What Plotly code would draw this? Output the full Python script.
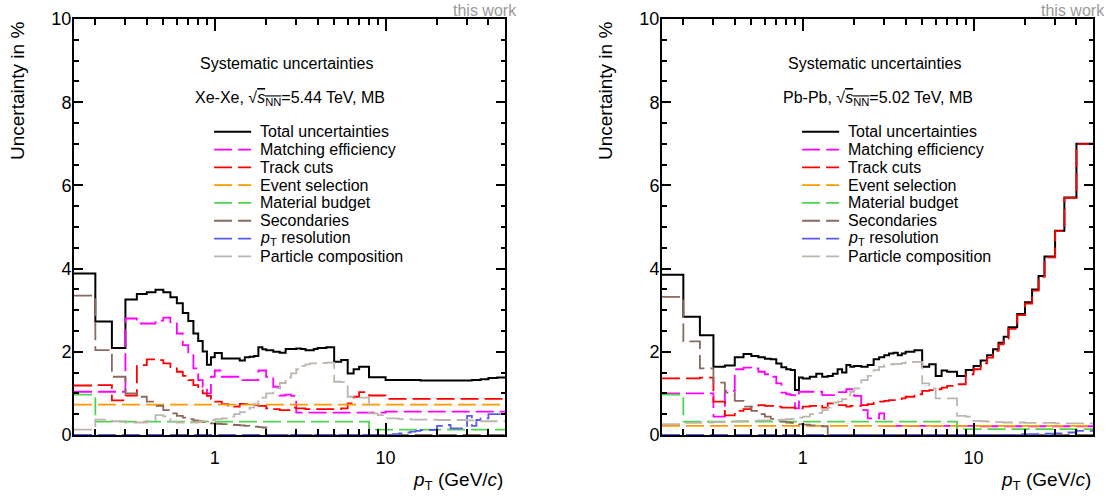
import math
import plotly.graph_objects as go

# ---------------------------------------------------------------------------
# pT binning (GeV/c)
# ---------------------------------------------------------------------------
edges_common = [0.15, 0.2, 0.25, 0.3, 0.35, 0.4, 0.45, 0.5, 0.55, 0.6, 0.65, 0.7,
                0.75, 0.8, 0.85, 0.9, 0.95, 1.0, 1.1, 1.2, 1.3, 1.4, 1.5, 1.6,
                1.7, 1.8, 1.9, 2.0, 2.2, 2.4, 2.6, 2.8, 3.0, 3.2, 3.4, 3.6, 3.8,
                4.0, 4.5, 5.0, 5.5, 6.0, 6.5, 7.0, 8.0, 9.0, 10.0, 11.0, 12.0,
                13.0, 14.0, 15.0, 16.0, 18.0, 20.0, 22.0, 24.0, 26.0]
edges_xexe = edges_common + [28.0, 30.0, 32.0, 34.0, 36.0, 40.0, 45.0, 50.0]
edges_pbpb = edges_common + [30.0, 34.0, 40.0, 50.0]

# ---------------------------------------------------------------------------
# Xe-Xe, sqrt(sNN) = 5.44 TeV : relative systematic uncertainties in %
# ---------------------------------------------------------------------------
xexe_total = [3.88, 2.73, 2.09, 3.26, 3.39, 3.43, 3.49, 3.43, 3.31, 3.17, 2.93, 2.74,
              2.44, 2.26, 2.01, 1.69, 1.87,
              1.97, 1.84, 1.84, 1.84, 1.79, 1.87, 1.88, 1.90, 2.11, 2.06,
              2.04, 2.00, 1.98, 2.07, 2.07, 2.08, 2.07, 2.04, 2.04, 2.07,
              2.09, 2.11, 1.76, 1.80, 1.48, 1.58, 1.64, 1.39, 1.39,
              1.32, 1.32, 1.32, 1.32, 1.32, 1.32, 1.31, 1.31, 1.31, 1.31, 1.31,
              1.31, 1.31, 1.31, 1.32, 1.32, 1.34, 1.37, 1.38]
xexe_matching = [1.04, 1.04, 1.04, 2.80, 2.68, 2.68, 2.75, 2.82, 2.68, 2.44, 2.16, 1.96,
                 1.60, 1.32, 1.16, 1.00, 1.40,
                 1.55, 1.40, 1.40, 1.40, 1.32, 1.32, 1.32, 1.32, 1.55, 1.55,
                 1.40, 1.16, 0.95, 0.97, 0.94, 0.54, 0.54, 0.54, 0.54, 0.54,
                 0.54, 0.54, 0.54, 0.54, 0.54, 0.54, 0.54, 0.54, 0.54,
                 0.56, 0.56, 0.56, 0.56, 0.56, 0.56, 0.56, 0.56, 0.56, 0.56, 0.56,
                 0.56, 0.56, 0.56, 0.56, 0.56, 0.56, 0.56, 0.56]
xexe_trackcuts = [1.19, 1.20, 0.83, 0.95, 1.68, 1.82, 1.80, 1.72, 1.63, 1.52, 1.42, 1.32,
                  1.20, 1.12, 1.00, 0.94, 0.87,
                  0.80, 0.74, 0.70, 0.68, 0.75, 0.74, 0.72, 0.72, 0.70, 0.70,
                  0.64, 0.62, 0.60, 0.60, 0.66, 0.64, 0.64, 0.62, 0.62, 0.62,
                  0.62, 0.62, 0.62, 0.64, 0.76, 0.92, 1.03, 0.95, 0.95,
                  0.87, 0.87, 0.87, 0.87, 0.87, 0.87, 0.87, 0.87, 0.87, 0.87, 0.87,
                  0.87, 0.87, 0.87, 0.87, 0.87, 0.87, 0.87, 0.87]
xexe_event = [0.73] * 65
xexe_material = [0.97] + [0.32] * 43 + [0.13] * 21
xexe_secondaries = [3.35, 2.04, 1.40, 1.00, 0.92, 0.80, 0.70, 0.60, 0.52, 0.46, 0.42, 0.38,
                    0.35, 0.33, 0.31, 0.29, 0.28,
                    0.27, 0.26, 0.25, 0.24, 0.23, 0.22, 0.21, 0.20, 0.19, 0.18] + [0.0] * 38
xexe_ptres = [0.0] * 47 + [0.02, 0.04, 0.06, 0.08, 0.10, 0.12, 0.12, 0.22, 0.24, 0.16,
                           0.16, 0.16, 0.46, 0.22, 0.36, 0.40, 0.50, 0.50]
xexe_partcomp = [0.13, 0.37, 0.33, 0.30, 0.30, 0.33, 0.48, 0.45, 0.32, 0.30, 0.30, 0.30,
                 0.30, 0.32, 0.33, 0.34, 0.35,
                 0.38, 0.40, 0.44, 0.50, 0.55, 0.60, 0.66, 0.74, 0.82, 0.90,
                 1.00, 1.12, 1.25, 1.38, 1.48, 1.58, 1.66, 1.70, 1.72, 1.72,
                 1.73, 1.74, 1.28, 1.27, 0.92, 0.90, 0.90, 0.52, 0.48,
                 0.40, 0.40, 0.38, 0.38, 0.37, 0.37, 0.37, 0.37, 0.36, 0.36, 0.36,
                 0.36, 0.36, 0.35, 0.35, 0.34, 0.33, 0.33, 0.33]

# ---------------------------------------------------------------------------
# Pb-Pb, sqrt(sNN) = 5.02 TeV : relative systematic uncertainties in %
# ---------------------------------------------------------------------------
pbpb_total = [3.85, 2.84, 2.40, 1.64, 1.67, 1.87, 1.95, 1.90, 1.87, 1.83, 1.82, 1.72,
              1.63, 1.58, 1.56, 1.08, 1.38,
              1.36, 1.40, 1.47, 1.40, 1.42, 1.47, 1.58, 1.50, 1.68, 1.64,
              1.66, 1.64, 1.68, 1.82, 1.87, 1.92, 1.96, 1.98, 1.92, 1.96,
              2.00, 2.04, 1.64, 1.70, 1.42, 1.55, 1.52, 1.42, 1.56,
              1.66, 1.79, 1.92, 2.06, 2.22, 2.36, 2.59, 2.91, 3.19, 3.50, 3.82,
              4.29, 4.91, 5.71, 7.00]
pbpb_matching = [1.00, 1.00, 1.00, 0.44, 1.06, 1.58, 1.62, 1.60, 1.52, 1.46, 1.40, 1.24,
                 1.02, 0.98, 0.96, 0.64, 1.04,
                 1.04, 1.04, 1.04, 0.96, 0.96, 0.96, 1.03, 1.03, 1.10, 1.10,
                 0.94, 0.60, 0.40, 0.40, 0.52, 0.22, 0.22, 0.22, 0.22, 0.22,
                 0.22, 0.22, 0.22, 0.22, 0.22, 0.22, 0.22, 0.22, 0.22,
                 0.21, 0.21, 0.21, 0.21, 0.21, 0.21, 0.21, 0.21, 0.21, 0.21, 0.21,
                 0.21, 0.21, 0.21, 0.21]
pbpb_trackcuts = [1.36, 1.36, 1.38, 0.80, 0.47, 0.58, 0.62, 0.68, 0.72, 0.70, 0.70, 0.68,
                  0.66, 0.66, 0.66, 0.64, 0.64,
                  0.68, 0.70, 0.72, 0.66, 0.76, 0.72, 0.72, 0.72, 0.68, 0.70,
                  0.70, 0.72, 0.74, 0.78, 0.80, 0.82, 0.84, 0.84, 0.86, 0.88,
                  0.92, 0.98, 1.06, 1.08, 1.10, 1.14, 1.18, 1.22, 1.46,
                  1.58, 1.72, 1.86, 2.02, 2.18, 2.32, 2.55, 2.88, 3.16, 3.47, 3.80,
                  4.27, 4.90, 5.70, 6.99]
pbpb_event = [0.22] * 61
pbpb_material = [0.97] + [0.32] * 43 + [0.14] * 17
pbpb_secondaries = [3.32, 2.25, 1.60, 1.26, 1.02, 0.82, 0.68, 0.58, 0.50, 0.44, 0.39, 0.35,
                    0.32, 0.30, 0.29, 0.27, 0.26,
                    0.25, 0.23, 0.22, 0.21] + [0.0] * 40
pbpb_ptres = [0.0] * 53 + [0.02, 0.02, 0.02, 0.03, 0.03, 0.04, 0.06, 0.10]
pbpb_partcomp = [0.26, 0.29, 0.30, 0.31, 0.32, 0.33, 0.34, 0.34, 0.35, 0.35, 0.36, 0.36,
                 0.37, 0.38, 0.39, 0.40, 0.42,
                 0.44, 0.50, 0.53, 0.60, 0.66, 0.78, 0.80, 0.86, 0.96, 1.04,
                 1.12, 1.32, 1.42, 1.56, 1.64, 1.68, 1.70, 1.71, 1.71, 1.73,
                 1.75, 1.76, 1.24, 1.12, 0.88, 0.88, 0.88, 0.46, 0.44,
                 0.34, 0.33, 0.32, 0.31, 0.31, 0.30, 0.30, 0.30, 0.29, 0.29, 0.29,
                 0.29, 0.28, 0.28, 0.28]

# ---------------------------------------------------------------------------
# Legend entries and styles
# ---------------------------------------------------------------------------
source_names = ["Total uncertainties", "Matching efficiency", "Track cuts",
                "Event selection", "Material budget", "Secondaries",
                "<i>p</i><sub>T</sub> resolution", "Particle composition"]
source_colors = ["#000000", "#ff00ff", "#ff0000", "#ff9900",
                 "#4fd34f", "#8a6a5e", "#5a5af0", "#bdb5ab"]
source_dashes = ["solid"] + ["18px,6px"] * 7
source_widths = [2.0] + [1.8] * 7

panels = [
    dict(edges=edges_xexe, xa="x", ya="y",
         series=[xexe_total, xexe_matching, xexe_trackcuts, xexe_event,
                 xexe_material, xexe_secondaries, xexe_ptres, xexe_partcomp],
         system="Xe-Xe", energy="5.44"),
    dict(edges=edges_pbpb, xa="x2", ya="y2",
         series=[pbpb_total, pbpb_matching, pbpb_trackcuts, pbpb_event,
                 pbpb_material, pbpb_secondaries, pbpb_ptres, pbpb_partcomp],
         system="Pb-Pb", energy="5.02"),
]

FONT = "Liberation Sans, Arial, Helvetica, sans-serif"
W, H = 1113, 499

fig = go.Figure()

for p in panels:
    for vals, name, col, dash, lw in zip(p["series"], source_names, source_colors,
                                         source_dashes, source_widths):
        # histogram drawn as a step line over the bin edges
        fig.add_trace(go.Scatter(
            x=p["edges"], y=list(vals) + [vals[-1]],
            mode="lines", line=dict(color=col, width=lw, dash=dash, shape="hv"),
            name=name, showlegend=False, hoverinfo="skip",
            xaxis=p["xa"], yaxis=p["ya"]))

# ---------------------------------------------------------------------------
# Axes
# ---------------------------------------------------------------------------
minor_pt = [0.2, 0.3, 0.4, 0.5, 0.6, 0.7, 0.8, 0.9,
            2, 3, 4, 5, 6, 7, 8, 9, 20, 30, 40, 50]

x_domains = [[74 / W, 505 / W], [662 / W, 1093 / W]]
y_domain = [64 / H, 480 / H]

xcommon = dict(type="log", range=[math.log10(0.15), math.log10(50)],
               showline=True, linecolor="black", linewidth=2, mirror="allticks",
               ticks="inside", ticklen=12, tickwidth=1.5, tickcolor="black",
               tickmode="array", tickvals=[1, 10], ticktext=["1", "10"],
               tickfont=dict(family=FONT, size=18, color="black"),
               ticklabelstandoff=5,
               minor=dict(ticks="inside", ticklen=6, tickwidth=1.5, tickcolor="black",
                          tickmode="array", tickvals=minor_pt, showgrid=False),
               showgrid=False, zeroline=False, automargin=False)
ycommon = dict(range=[0, 10], showline=True, linecolor="black", linewidth=2,
               mirror="allticks", ticks="inside", ticklen=9, tickwidth=1.5,
               tickcolor="black", dtick=2, tick0=0,
               tickfont=dict(family=FONT, size=18, color="black"),
               ticklabelstandoff=-3,
               minor=dict(ticks="inside", ticklen=4.5, tickwidth=1.5, tickcolor="black",
                          dtick=0.5, showgrid=False),
               showgrid=False, zeroline=False, automargin=False)

fig.update_layout(
    width=W, height=H,
    margin=dict(l=0, r=0, t=0, b=0, pad=0, autoexpand=False),
    paper_bgcolor="white", plot_bgcolor="white",
    font=dict(family=FONT, color="black"),
    xaxis=dict(xcommon, domain=x_domains[0], anchor="y"),
    yaxis=dict(ycommon, domain=y_domain, anchor="x"),
    xaxis2=dict(xcommon, domain=x_domains[1], anchor="y2"),
    yaxis2=dict(ycommon, domain=y_domain, anchor="x2"),
)

# ---------------------------------------------------------------------------
# Titles, labels and hand-placed legend
# ---------------------------------------------------------------------------
annotations = []
shapes = []
row_y0 = 0.729        # first legend row, fraction of the y domain
row_step = 0.0428

for p, dom in zip(panels, x_domains):
    xd = p["xa"] + " domain"
    yd = p["ya"] + " domain"
    annotations.append(dict(
        text="Systematic uncertainties", xref=xd, yref=yd, x=0.494, y=0.894,
        xanchor="center", yanchor="middle", showarrow=False,
        font=dict(family=FONT, size=16)))
    annotations.append(dict(
        text=(p["system"] + ", √<span style='text-decoration:overline'><i>s</i>"
              "<sub>NN</sub></span>=" + p["energy"] + " TeV, MB"),
        xref=xd, yref=yd, x=0.50, y=0.81, xanchor="center", yanchor="middle",
        showarrow=False, font=dict(family=FONT, size=16)))
    for i, (name, col, dash, lw) in enumerate(zip(source_names, source_colors,
                                                  source_dashes, source_widths)):
        yy = row_y0 - i * row_step
        shapes.append(dict(type="line", xref=xd, yref=yd, x0=0.325, x1=0.411,
                           y0=yy, y1=yy, line=dict(color=col, width=lw, dash=dash)))
        annotations.append(dict(
            text=name, xref=xd, yref=yd, x=0.427, y=yy, xanchor="left",
            yanchor="middle", showarrow=False, font=dict(family=FONT, size=16)))
    # y-axis title
    annotations.append(dict(
        text="Uncertainty in %", xref="paper", yref="paper",
        x=(dom[0] * W - 57) / W, y=(H - 20) / H, xanchor="center", yanchor="top",
        textangle=-90, showarrow=False, font=dict(family=FONT, size=19)))
    # x-axis title
    annotations.append(dict(
        text="<i>p</i><sub>T</sub> (GeV/<i>c</i>)", xref="paper", yref="paper",
        x=dom[1], y=(H - 481) / H, xanchor="right", yanchor="middle",
        showarrow=False, font=dict(family=FONT, size=19)))
    # label at the top right of each frame
    annotations.append(dict(
        text="this work", xref="paper", yref="paper",
        x=(dom[1] * W + 14) / W, y=1.0, xanchor="right", yanchor="top",
        showarrow=False, font=dict(family=FONT, size=16, color="#999999")))

fig.update_layout(annotations=annotations, shapes=shapes)

fig.write_html("out.html")
